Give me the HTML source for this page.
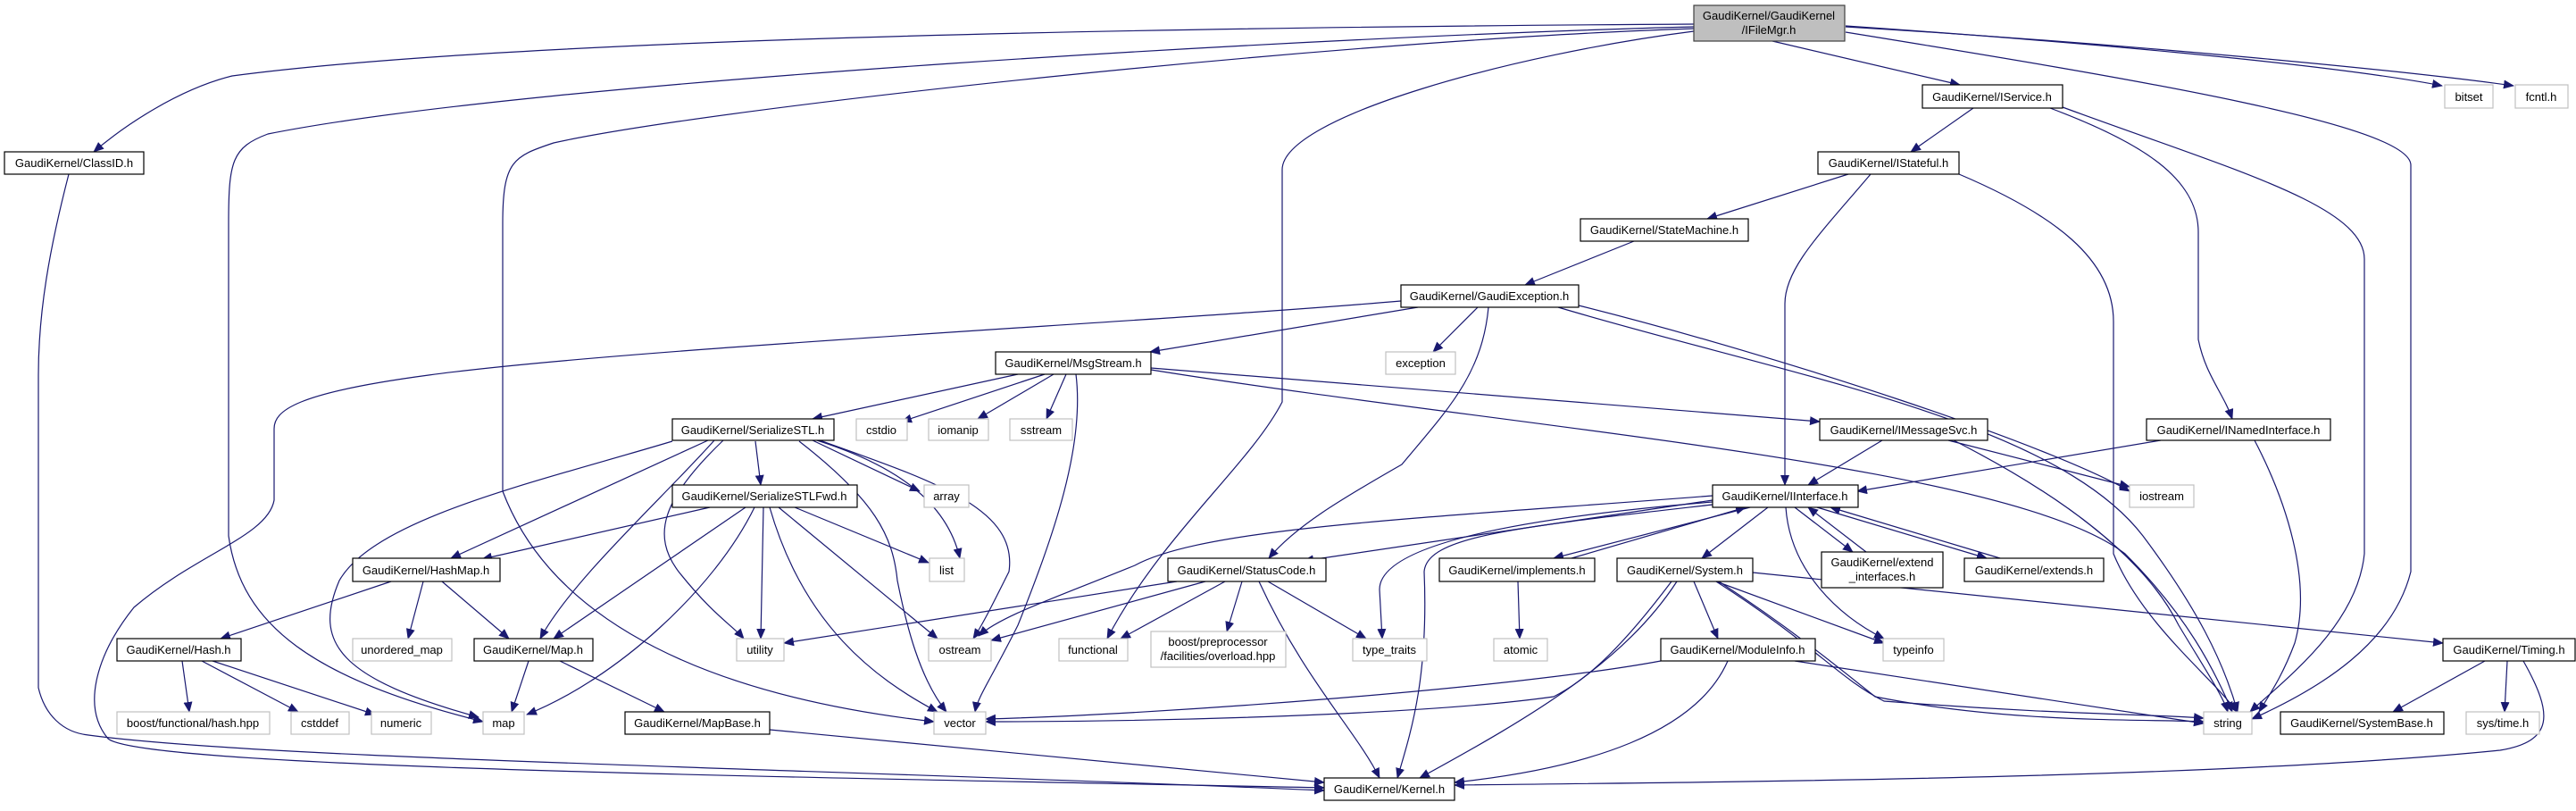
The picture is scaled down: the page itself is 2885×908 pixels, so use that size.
<!DOCTYPE html>
<html><head><meta charset="utf-8"><style>
html,body{margin:0;padding:0;background:#fff}
svg text{font-family:"Liberation Sans",sans-serif;font-size:13px;fill:#000}
</style></head><body>
<svg width="2885" height="903" viewBox="0 0 2885 903" xmlns="http://www.w3.org/2000/svg">
<defs><marker id="a" markerUnits="userSpaceOnUse" markerWidth="12" markerHeight="10" refX="11" refY="5" orient="auto"><path d="M0,0 L12,5 L0,10 z" fill="#191970"/></marker></defs>
<g fill="none" stroke="#191970" stroke-width="1.2" marker-end="url(#a)">
<!-- IFileMgr -->
<path d="M1897,27 C1400,30 600,40 260,85 C200,100 140,140 105,170"/>
<path d="M1897,30 C1500,40 600,90 300,150 C260,165 256,180 256,250 L256,600 C270,700 350,760 541,808"/>
<path d="M1897,32 C1500,45 800,120 620,160 C575,175 563,180 563,250 L563,550 C620,700 800,780 1046,808"/>
<path d="M1897,35 C1700,60 1436,130 1436,190 L1436,450 C1400,520 1300,600 1240,715"/>
<path d="M1985,46 L2195,95"/>
<path d="M2067,36 C2400,90 2700,140 2700,185 L2700,640 C2680,720 2600,770 2522,805"/>
<path d="M2067,29 C2300,45 2600,70 2735,96"/>
<path d="M2067,30 C2400,50 2700,80 2815,96"/>
<!-- IService -->
<path d="M2210,121 L2140,170"/>
<path d="M2296,121 C2400,160 2462,200 2462,260 L2462,380 C2470,420 2490,440 2500,469"/>
<path d="M2310,120 C2500,190 2648,230 2648,290 L2648,620 C2640,700 2560,760 2520,797"/>
<!-- IStateful -->
<path d="M2070,195 L1912,245"/>
<path d="M2095,195 C2040,260 1999,300 1999,340 L1999,543"/>
<path d="M2194,195 C2300,240 2367,290 2367,360 L2367,620 C2400,700 2480,760 2505,797"/>
<path d="M1830,270 L1708,319"/>
<!-- GaudiException -->
<path d="M1588,344 L1288,394"/>
<path d="M1655,344 L1605,394"/>
<path d="M1667,344 C1660,420 1620,460 1570,520 C1500,560 1450,590 1421,625"/>
<path d="M1569,337 C1300,360 700,390 480,420 C330,440 307,460 307,480 L307,560 C300,600 220,620 150,680 C110,730 90,790 121,827 C160,860 900,870 1483,882"/>
<path d="M1768,342 C2000,400 2300,500 2385,550"/>
<path d="M1745,344 C2000,420 2300,470 2400,600 C2460,680 2490,740 2506,797"/>
<!-- MsgStream -->
<path d="M1140,419 L910,469"/>
<path d="M1170,419 L1010,472"/>
<path d="M1180,419 L1095,469"/>
<path d="M1194,419 L1172,469"/>
<path d="M1205,419 C1215,500 1180,600 1140,700 C1110,760 1095,780 1092,797"/>
<path d="M1289,412 L2038,472"/>
<path d="M1289,414 C1700,480 2250,520 2380,620 C2450,690 2480,750 2500,797"/>
<!-- SerializeSTL -->
<path d="M793,493 L505,625"/>
<path d="M800,493 C740,560 640,650 605,715"/>
<path d="M753,494 C600,540 420,580 380,650 C350,720 380,760 536,803"/>
<path d="M810,493 C740,560 730,600 760,640 C800,690 820,700 833,715"/>
<path d="M846,494 L852,543"/>
<path d="M910,493 L1030,550"/>
<path d="M915,493 C1000,520 1060,560 1075,625"/>
<path d="M918,493 C1050,540 1140,570 1130,640 C1110,680 1100,700 1090,715"/>
<path d="M895,494 C980,560 1000,600 1005,650 C1015,700 1030,760 1060,797"/>
<!-- SerializeSTLFwd -->
<path d="M795,568 L540,626"/>
<path d="M835,568 L620,715"/>
<path d="M845,568 C800,660 690,760 590,800"/>
<path d="M855,568 L852,715"/>
<path d="M890,568 L1040,630"/>
<path d="M872,568 L1050,715"/>
<path d="M862,568 C900,700 980,760 1050,797"/>
<!-- HashMap, Hash, Map -->
<path d="M438,651 L247,715"/>
<path d="M474,651 L457,715"/>
<path d="M495,651 L570,715"/>
<path d="M204,740 L212,797"/>
<path d="M226,740 L334,797"/>
<path d="M238,740 L420,800"/>
<path d="M592,740 L573,797"/>
<path d="M627,740 L744,797"/>
<path d="M862,817 L1483,876"/>
<path d="M77,195 C55,280 43,350 43,420 L43,770 C50,800 70,820 99,823 C300,850 900,860 1483,885"/>
<!-- StatusCode -->
<path d="M1318,651 L878,720"/>
<path d="M1350,651 L1110,717"/>
<path d="M1372,651 L1255,715"/>
<path d="M1391,651 L1374,707"/>
<path d="M1420,651 L1530,715"/>
<path d="M1410,651 C1460,760 1520,820 1545,871"/>
<!-- IInterface -->
<path d="M1918,560 L1460,628"/>
<path d="M1918,555 C1600,580 1350,590 1271,633 C1180,670 1120,690 1096,712"/>
<path d="M1918,562 C1700,580 1545,610 1545,660 L1548,715"/>
<path d="M1918,565 C1700,590 1598,600 1595,640 C1600,760 1580,820 1565,871"/>
<path d="M1960,568 L1740,625"/>
<path d="M1760,625 L1955,568"/>
<path d="M1980,568 L1906,625"/>
<path d="M2010,568 L2075,618"/>
<path d="M2090,618 L2025,568"/>
<path d="M2035,568 L2225,625"/>
<path d="M2240,625 L2050,568"/>
<path d="M2000,568 C2005,640 2060,690 2110,715"/>
<!-- IMessageSvc, INamedInterface -->
<path d="M2108,493 L2025,543"/>
<path d="M2182,493 L2385,545"/>
<path d="M2188,493 C2300,550 2400,620 2440,700 C2470,750 2490,780 2495,797"/>
<path d="M2420,493 L2080,550"/>
<path d="M2525,493 C2560,560 2590,650 2570,720 C2555,760 2540,780 2530,797"/>
<!-- implements, System, ModuleInfo, Timing -->
<path d="M1700,651 L1702,715"/>
<path d="M1897,651 L1924,715"/>
<path d="M1922,651 L2110,720"/>
<path d="M1925,651 C2000,700 2050,740 2100,780 C2250,810 2400,805 2468,808"/>
<path d="M1922,651 C2030,720 2060,760 2110,785 C2300,800 2420,800 2468,804"/>
<path d="M1963,641 L2736,720"/>
<path d="M1872,651 C1820,720 1780,760 1740,780 C1600,800 1300,808 1104,808"/>
<path d="M1878,651 C1820,740 1720,800 1590,871"/>
<path d="M1860,740 C1700,770 1300,800 1104,805"/>
<path d="M2010,740 L2468,810"/>
<path d="M1935,740 C1900,820 1780,860 1629,876"/>
<path d="M2783,740 L2680,797"/>
<path d="M2808,740 L2805,797"/>
<path d="M2826,740 C2860,800 2860,830 2800,840 C2500,870 2000,875 1629,879"/>
</g>
<g stroke-width="1.2">
<rect x="1897" y="6" width="169" height="40" fill="#bfbfbf" stroke="#404040"/>
<g fill="#fff" stroke="#000">
<rect x="5" y="170" width="156" height="25"/>
<rect x="2153" y="95" width="157" height="26"/>
<rect x="2036" y="170" width="158" height="25"/>
<rect x="1770" y="245" width="188" height="25"/>
<rect x="1569" y="319" width="199" height="25"/>
<rect x="1115" y="394" width="174" height="25"/>
<rect x="753" y="469" width="181" height="24"/>
<rect x="753" y="543" width="207" height="25"/>
<rect x="395" y="625" width="165" height="26"/>
<rect x="131" y="715" width="139" height="25"/>
<rect x="531" y="715" width="133" height="25"/>
<rect x="700" y="797" width="162" height="25"/>
<rect x="1483" y="871" width="146" height="25"/>
<rect x="1308" y="625" width="177" height="26"/>
<rect x="1612" y="625" width="174" height="26"/>
<rect x="1811" y="625" width="152" height="26"/>
<rect x="1860" y="715" width="173" height="25"/>
<rect x="1918" y="543" width="163" height="25"/>
<rect x="2038" y="469" width="188" height="24"/>
<rect x="2404" y="469" width="206" height="24"/>
<rect x="2040" y="618" width="136" height="40"/>
<rect x="2200" y="625" width="156" height="26"/>
<rect x="2736" y="715" width="148" height="25"/>
<rect x="2554" y="797" width="183" height="25"/>
</g>
<g fill="#fff" stroke="#c0c0c0">
<rect x="2738" y="95" width="54" height="26"/>
<rect x="2817" y="95" width="59" height="26"/>
<rect x="1552" y="394" width="78" height="25"/>
<rect x="959" y="469" width="57" height="24"/>
<rect x="1040" y="469" width="67" height="24"/>
<rect x="1131" y="469" width="70" height="24"/>
<rect x="1035" y="543" width="50" height="25"/>
<rect x="1041" y="625" width="39" height="26"/>
<rect x="2385" y="543" width="72" height="25"/>
<rect x="395" y="715" width="111" height="25"/>
<rect x="825" y="715" width="53" height="25"/>
<rect x="1040" y="715" width="70" height="25"/>
<rect x="1186" y="715" width="77" height="25"/>
<rect x="1289" y="707" width="151" height="40"/>
<rect x="1515" y="715" width="83" height="25"/>
<rect x="1673" y="715" width="60" height="25"/>
<rect x="2109" y="715" width="68" height="25"/>
<rect x="131" y="797" width="171" height="25"/>
<rect x="326" y="797" width="65" height="25"/>
<rect x="416" y="797" width="67" height="25"/>
<rect x="541" y="797" width="46" height="25"/>
<rect x="1046" y="797" width="58" height="25"/>
<rect x="2468" y="797" width="54" height="25"/>
<rect x="2762" y="797" width="82" height="25"/>
</g>
</g>
<g text-anchor="middle">
<text x="1981" y="22">GaudiKernel/GaudiKernel</text><text x="1981" y="38">/IFileMgr.h</text>
<text x="83" y="187">GaudiKernel/ClassID.h</text>
<text x="2231" y="113">GaudiKernel/IService.h</text>
<text x="2115" y="187">GaudiKernel/IStateful.h</text>
<text x="1864" y="262">GaudiKernel/StateMachine.h</text>
<text x="1668" y="336">GaudiKernel/GaudiException.h</text>
<text x="1202" y="411">GaudiKernel/MsgStream.h</text>
<text x="843" y="486">GaudiKernel/SerializeSTL.h</text>
<text x="856" y="560">GaudiKernel/SerializeSTLFwd.h</text>
<text x="477" y="643">GaudiKernel/HashMap.h</text>
<text x="200" y="732">GaudiKernel/Hash.h</text>
<text x="597" y="732">GaudiKernel/Map.h</text>
<text x="781" y="814">GaudiKernel/MapBase.h</text>
<text x="1556" y="888">GaudiKernel/Kernel.h</text>
<text x="1396" y="643">GaudiKernel/StatusCode.h</text>
<text x="1699" y="643">GaudiKernel/implements.h</text>
<text x="1887" y="643">GaudiKernel/System.h</text>
<text x="1946" y="732">GaudiKernel/ModuleInfo.h</text>
<text x="1999" y="560">GaudiKernel/IInterface.h</text>
<text x="2132" y="486">GaudiKernel/IMessageSvc.h</text>
<text x="2507" y="486">GaudiKernel/INamedInterface.h</text>
<text x="2108" y="634">GaudiKernel/extend</text><text x="2108" y="650">_interfaces.h</text>
<text x="2278" y="643">GaudiKernel/extends.h</text>
<text x="2810" y="732">GaudiKernel/Timing.h</text>
<text x="2645" y="814">GaudiKernel/SystemBase.h</text>
<text x="2765" y="113">bitset</text>
<text x="2846" y="113">fcntl.h</text>
<text x="1591" y="411">exception</text>
<text x="987" y="486">cstdio</text>
<text x="1073" y="486">iomanip</text>
<text x="1166" y="486">sstream</text>
<text x="1060" y="560">array</text>
<text x="1060" y="643">list</text>
<text x="2421" y="560">iostream</text>
<text x="450" y="732">unordered_map</text>
<text x="851" y="732">utility</text>
<text x="1075" y="732">ostream</text>
<text x="1224" y="732">functional</text>
<text x="1364" y="723">boost/preprocessor</text><text x="1364" y="739">/facilities/overload.hpp</text>
<text x="1556" y="732">type_traits</text>
<text x="1703" y="732">atomic</text>
<text x="2143" y="732">typeinfo</text>
<text x="216" y="814">boost/functional/hash.hpp</text>
<text x="358" y="814">cstddef</text>
<text x="449" y="814">numeric</text>
<text x="564" y="814">map</text>
<text x="1075" y="814">vector</text>
<text x="2495" y="814">string</text>
<text x="2803" y="814">sys/time.h</text>
</g>
</svg>
</body></html>
